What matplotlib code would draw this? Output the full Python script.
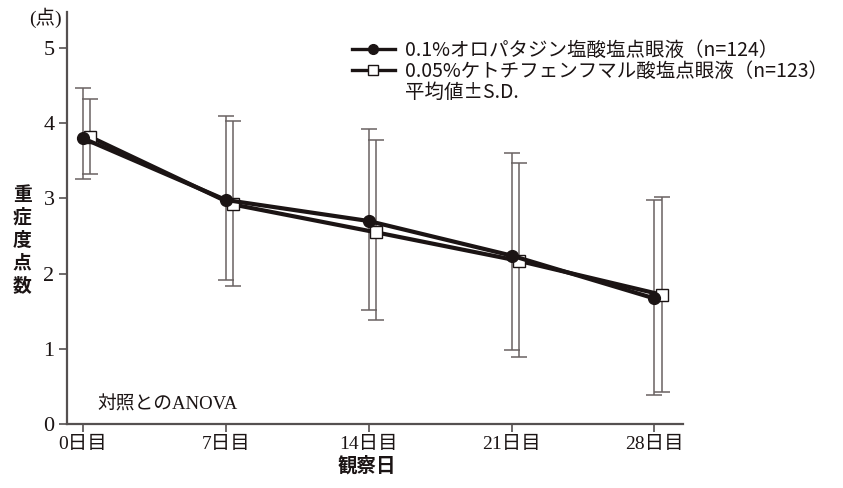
import matplotlib.pyplot as plt
from matplotlib.lines import Line2D
import numpy as np

plt.rcParams['font.family'] = ['Noto Sans CJK JP', 'DejaVu Sans']

# observation days and x tick labels
days = [0, 7, 14, 21, 28]
day_labels = ['0日目', '7日目', '14日目', '21日目', '28日目']

# 0.1% olopatadine: mean, upper and lower SD ends
olo_mean = [3.80, 2.98, 2.70, 2.24, 1.67]
olo_upper = [4.47, 4.10, 3.92, 3.61, 2.98]
olo_lower = [3.26, 1.91, 1.52, 0.99, 0.39]

# 0.05% ketotifen: mean, upper and lower SD ends
ket_mean = [3.82, 2.92, 2.55, 2.17, 1.72]
ket_upper = [4.32, 4.03, 3.78, 3.47, 3.02]
ket_lower = [3.32, 1.84, 1.38, 0.89, 0.42]

olo_label = '0.1%オロパタジン塩酸塩点眼液（n=124）'
ket_label = '0.05%ケトチフェンフマル酸塩点眼液（n=123）'

ink = '#1b1414'
bar_col = '#6a6262'
num_font = ['Liberation Serif', 'Noto Sans CJK JP']

fig = plt.figure(figsize=(8.43, 4.88), dpi=100)
ax = fig.add_axes([67/843, 1 - 424/488, (683 - 67)/843, (424 - 12)/488])

x = np.array(days, dtype=float)
shift = 0.35

def draw(xs, mean, upper, lower, marker, face, z):
    mean = np.array(mean)
    err = [mean - np.array(lower), np.array(upper) - mean]
    ax.errorbar(xs, mean, yerr=err, fmt='none', ecolor=bar_col,
                elinewidth=1.1, capsize=6, capthick=1.1, zorder=1)
    ax.plot(xs, mean, color=ink, lw=3.0, marker=marker, ms=8.5,
            mfc=face, mec=ink, mew=1.0, zorder=z, clip_on=False)

draw(x + shift, ket_mean, ket_upper, ket_lower, 's', 'white', 3)
draw(x, olo_mean, olo_upper, olo_lower, 'o', ink, 4)

ax.set_xlim(-0.78, 29.4)
ax.set_ylim(0, 5.48)

for side in ['top', 'right']:
    ax.spines[side].set_visible(False)
for side in ['left', 'bottom']:
    ax.spines[side].set_color('#555050')
    ax.spines[side].set_linewidth(1.6)

ax.set_xticks(days)
ax.set_xticklabels(day_labels, family=num_font, fontsize=14)
ax.set_yticks([0, 1, 2, 3, 4, 5])
ax.set_yticklabels(['0', '1', '2', '3', '4', '5'], family=num_font, fontsize=16)
ax.tick_params(axis='both', direction='out', length=6, width=1.2,
               color='#555050', labelcolor=ink, pad=3)

# axis titles
fig.text(45/843, 1 - 18/488, '(点)', family=num_font, fontsize=14,
         color=ink, ha='center', va='center')
fig.text(22/843, 1 - 240/488, '重\n症\n度\n点\n数', fontsize=13.5, fontweight='bold',
         color=ink, ha='center', va='center', linespacing=1.25)
fig.text(367/843, 1 - 466/488, '観察日', fontsize=14, fontweight='bold',
         color=ink, ha='center', va='center')
ax.text(97/843, 1 - 405/488, '対照とのANOVA', transform=fig.transFigure,
        family=num_font, fontsize=13.5, color=ink, ha='left', va='center')

handles = [
    Line2D([], [], color=ink, lw=2.4, marker='o', ms=7, mfc=ink, mec=ink),
    Line2D([], [], color=ink, lw=2.4, marker='s', ms=7, mfc='white', mec=ink),
    Line2D([], [], linestyle='none'),
]
labels = [olo_label, ket_label, '平均値±S.D.']
fig.legend(handles, labels, loc='upper left', bbox_to_anchor=(352/843, 1 - 40/488),
           frameon=False, fontsize=14, handlelength=2.2, handletextpad=0.5,
           labelspacing=0.0, borderpad=0, borderaxespad=0, labelcolor=ink)

fig.savefig('out.png', dpi=100)
